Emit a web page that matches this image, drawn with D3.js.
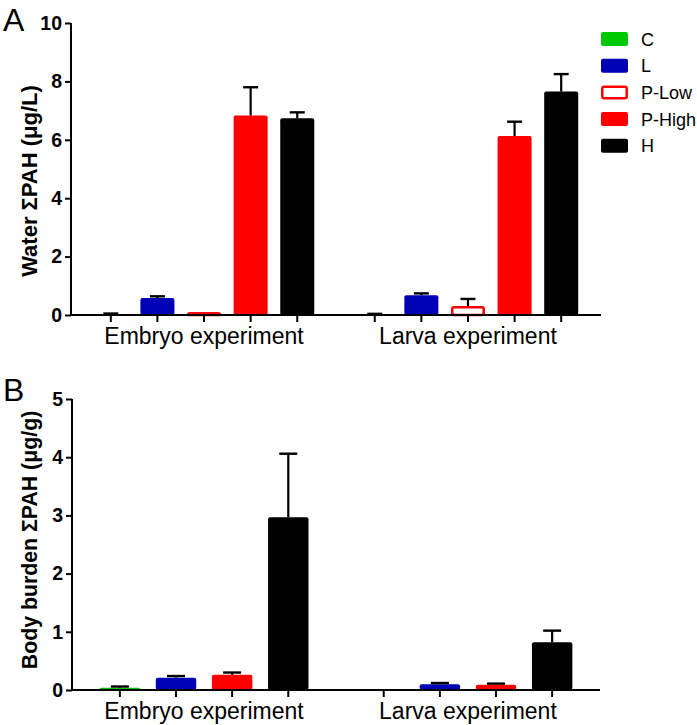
<!DOCTYPE html>
<html><head><meta charset="utf-8">
<script src="https://cdn.jsdelivr.net/npm/d3@7"></script>
<style>body{margin:0;background:#fff}svg{display:block;font-family:Arial,"Liberation Sans",sans-serif}</style>
</head><body><svg id="c" width="697" height="725"></svg>
<script>
const groups = ["Embryo experiment", "Larva experiment"];
const seriesA = ["C", "L", "P-Low", "P-High", "H"];
const seriesB = ["C", "L", "P-High", "H"];
const waterEmbryo = [0.03, 0.58, 0.10, 6.83, 6.74];
const waterEmbryoErr = [0.02, 0.06, 0.00, 0.97, 0.20];
const waterLarva = [0.03, 0.68, 0.31, 6.13, 7.65];
const waterLarvaErr = [0.01, 0.06, 0.24, 0.49, 0.60];
const bodyEmbryo = [0.04, 0.21, 0.26, 2.97];
const bodyEmbryoErr = [0.02, 0.03, 0.04, 1.09];
const bodyLarva = [0, 0.10, 0.09, 0.82];
const bodyLarvaErr = [0, 0.02, 0.02, 0.20];
const ticksA = [0, 2, 4, 6, 8, 10];
const ticksB = [0, 1, 2, 3, 4, 5];

const colors = {"C": "#00c800", "L": "#0000b4", "P-Low": "#ffffff", "P-High": "#ff0000", "H": "#000000"};
const strokes = {"C": "#00c800", "L": "#0000b4", "P-Low": "#ff0000", "P-High": "#ff0000", "H": "#000000"};

const svg = d3.select("#c");

function panel(cfg) {
  const g = svg.append("g");
  const y = d3.scaleLinear().domain(cfg.ydom).range(cfg.yrange);
  const x0 = d3.scaleBand().domain(groups).range(cfg.xrange)
    .paddingInner(cfg.pi).paddingOuter(cfg.po);
  const x1 = d3.scaleBand().domain(cfg.series).range([0, x0.bandwidth()]);
  const bw = x1.step() * cfg.barFrac;
  const data = [];
  groups.forEach((grp, gi) => {
    cfg.series.forEach((s, si) => {
      data.push({grp, s, v: cfg.means[gi][si], e: cfg.errs[gi][si]});
    });
  });
  const cx = d => x0(d.grp) + x1(d.s) + x1.step() / 2;
  // bars
  g.selectAll("rect.bar").data(data.filter(d => d.v > 0)).enter().append("rect")
    .attr("x", d => cx(d) - bw / 2 + (d.s === "P-Low" ? 1.25 : 0))
    .attr("width", d => bw - (d.s === "P-Low" ? 2.5 : 0))
    .attr("y", d => y(d.v) + (d.s === "P-Low" ? 1.25 : 0))
    .attr("height", d => Math.max(0, y(0) - y(d.v) - (d.s === "P-Low" ? 1.25 : 0)))
    .attr("rx", 2)
    .attr("fill", d => colors[d.s])
    .attr("stroke", d => d.s === "P-Low" ? strokes[d.s] : "none")
    .attr("stroke-width", 2.5);
  // error bars
  const eb = data.filter(d => d.e > 0);
  g.selectAll("line.ev").data(eb).enter().append("line")
    .attr("x1", cx).attr("x2", cx)
    .attr("y1", d => y(d.v)).attr("y2", d => y(d.v + d.e))
    .attr("stroke", "#000").attr("stroke-width", 2.2);
  g.selectAll("line.ec").data(eb).enter().append("line")
    .attr("x1", d => cx(d) - cfg.cap / 2).attr("x2", d => cx(d) + cfg.cap / 2)
    .attr("y1", d => y(d.v + d.e)).attr("y2", d => y(d.v + d.e))
    .attr("stroke", "#000").attr("stroke-width", 2.4);
  // y axis
  const ya = g.append("g").attr("transform", `translate(${cfg.xrange[0]},0)`)
    .call(d3.axisLeft(y).tickValues(cfg.ticks).tickFormat(d3.format("d"))
      .tickSize(6).tickSizeOuter(0).tickPadding(3));
  ya.select(".domain").attr("stroke-width", 2).attr("d", `M0,${cfg.yrange[0] + 1}V${cfg.yrange[1]}`);
  ya.selectAll(".tick line").attr("stroke-width", 2);
  ya.selectAll(".tick text").attr("font-size", 19.5).attr("font-weight", "bold")
    .attr("font-family", "Arial,'Liberation Sans',sans-serif").attr("fill", "#000");
  // x axis
  const xg = g.append("g").attr("transform", `translate(0,${cfg.yrange[0]})`);
  xg.append("line").attr("x1", cfg.xrange[0] - 1).attr("x2", cfg.xrange[1])
    .attr("stroke", "#000").attr("stroke-width", 2);
  xg.selectAll("line.t").data(data).enter().append("line")
    .attr("x1", cx).attr("x2", cx).attr("y1", 0).attr("y2", 7)
    .attr("stroke", "#000").attr("stroke-width", 2);
  xg.selectAll("text").data(groups).enter().append("text")
    .attr("x", d => x0(d) + x0.bandwidth() / 2).attr("y", cfg.labDy)
    .attr("text-anchor", "middle").attr("font-size", 23).text(d => d);
  // y title
  g.append("text")
    .attr("transform", `translate(${cfg.titleX},${cfg.titleY}) rotate(-90)`)
    .attr("text-anchor", "middle").attr("font-size", cfg.titleSize).attr("font-weight", "bold")
    .text(cfg.title);
  // panel letter
  g.append("text").attr("x", 3).attr("y", cfg.letterY).attr("font-size", 32).text(cfg.letter);
}

panel({
  ydom: [0, 10], yrange: [315, 23], xrange: [71, 601], pi: 0.117, po: 0.0625,
  series: seriesA, means: [waterEmbryo, waterLarva], errs: [waterEmbryoErr, waterLarvaErr],
  barFrac: 0.73, cap: 15, ticks: ticksA, labDy: 29, titleX: 37, titleY: 181, titleSize: 22,
  title: "Water \u03A3PAH (\u03BCg/L)", letter: "A", letterY: 31
});
panel({
  ydom: [0, 5], yrange: [690, 399], xrange: [72, 600], pi: 0.149, po: 0.075,
  series: seriesB, means: [bodyEmbryo, bodyLarva], errs: [bodyEmbryoErr, bodyLarvaErr],
  barFrac: 0.72, cap: 18, ticks: ticksB, labDy: 29, titleX: 37, titleY: 540, titleSize: 21.3,
  title: "Body burden \u03A3PAH (\u03BCg/g)", letter: "B", letterY: 401
});

// legend
const lg = svg.append("g").attr("transform", "translate(601,32)");
const li = lg.selectAll("g").data(seriesA).enter().append("g")
  .attr("transform", (d, i) => `translate(0,${i * 26.7})`);
li.append("rect").attr("x", d => d === "P-Low" ? 1.25 : 0).attr("y", d => d === "P-Low" ? 1.25 : 0)
  .attr("width", d => d === "P-Low" ? 24.5 : 27).attr("height", d => d === "P-Low" ? 11.5 : 14)
  .attr("rx", 2).attr("fill", d => colors[d])
  .attr("stroke", d => d === "P-Low" ? strokes[d] : "none").attr("stroke-width", 2.5);
li.append("text").attr("x", 40).attr("y", 13.5).attr("font-size", 18).text(d => d);
</script></body></html>
